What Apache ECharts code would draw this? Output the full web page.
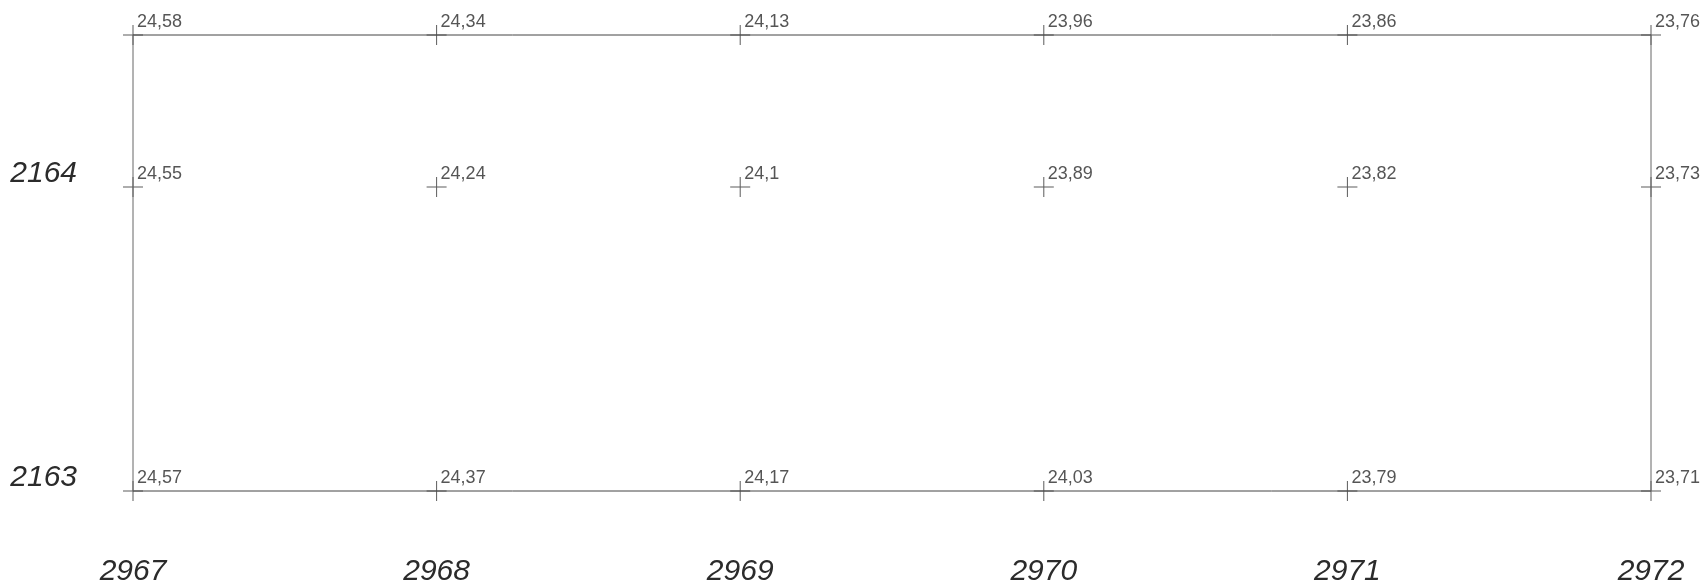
<!DOCTYPE html>
<html>
<head>
<meta charset="utf-8">
<script src="https://cdn.jsdelivr.net/npm/echarts@6/dist/echarts.min.js"></script>
<style>
  html, body { margin: 0; padding: 0; background: #fff; }
  #main { width: 1706px; height: 587px; }
</style>
</head>
<body>
<div id="main"></div>
<script>
// column positions (x) and row positions (y)
var xTicks = [2967, 2968, 2969, 2970, 2971, 2972];
var rowY = [2164.5, 2164, 2163];
// readings per row, left to right
var topRow = [24.58, 24.34, 24.13, 23.96, 23.86, 23.76];
var midRow = [24.55, 24.24, 24.1, 23.89, 23.82, 23.73];
var botRow = [24.57, 24.37, 24.17, 24.03, 23.79, 23.71];

var rows = [topRow, midRow, botRow];
var points = [];
rows.forEach(function (row, r) {
  row.forEach(function (v, i) {
    points.push([xTicks[i], rowY[r], v]);
  });
});

var x0 = xTicks[0], x1 = xTicks[xTicks.length - 1];
var yTop = rowY[0], yBot = rowY[rowY.length - 1];

var chart = echarts.init(document.getElementById('main'), null, { renderer: 'canvas' });
var option = {
  backgroundColor: '#ffffff',
  animation: false,
  grid: { left: 133, right: 55, top: 35, bottom: 94 },
  xAxis: {
    type: 'value',
    min: x0, max: x1, interval: 1,
    axisLine: { show: false }, axisTick: { show: false }, splitLine: { show: false },
    axisLabel: {
      margin: 66,
      fontFamily: 'Liberation Sans',
      fontStyle: 'italic',
      fontSize: 30,
      color: '#2b2b2b',
      formatter: function (v) { return String(v); }
    }
  },
  yAxis: {
    type: 'value',
    min: yBot, max: yTop, interval: 0.5,
    axisLine: { show: false }, axisTick: { show: false }, splitLine: { show: false },
    axisLabel: {
      margin: 56,
      fontFamily: 'Liberation Sans',
      fontStyle: 'italic',
      fontSize: 30,
      lineHeight: 27,
      color: '#2b2b2b',
      verticalAlign: 'bottom',
      formatter: function (v) { return Number.isInteger(v) ? String(v) : ''; }
    }
  },
  series: [
    {
      // top and bottom lines
      type: 'line', clip: false, symbol: 'none', silent: true,
      lineStyle: { color: '#444', width: 1 },
      data: [[x0, yTop], [x1, yTop], '-', [x0, yBot], [x1, yBot]]
    },
    {
      // left and right sides
      type: 'line', clip: false, symbol: 'none', silent: true,
      lineStyle: { color: '#666', width: 1 },
      data: [[x0, yTop], [x0, yBot], '-', [x1, yTop], [x1, yBot]]
    },
    {
      type: 'scatter', clip: false, silent: true,
      symbol: 'path://M0,9.5h20v1h-20z M9.5,0h1v20h-1z',
      symbolSize: 20,
      itemStyle: { color: '#333' },
      label: {
        show: true,
        position: [14, 6],
        align: 'left',
        verticalAlign: 'bottom',
        fontFamily: 'Liberation Sans',
        fontSize: 18,
        color: '#2b2b2b',
        formatter: function (p) { return String(p.value[2]).replace('.', ','); }
      },
      data: points
    }
  ]
};
chart.setOption(option);
</script>
</body>
</html>
